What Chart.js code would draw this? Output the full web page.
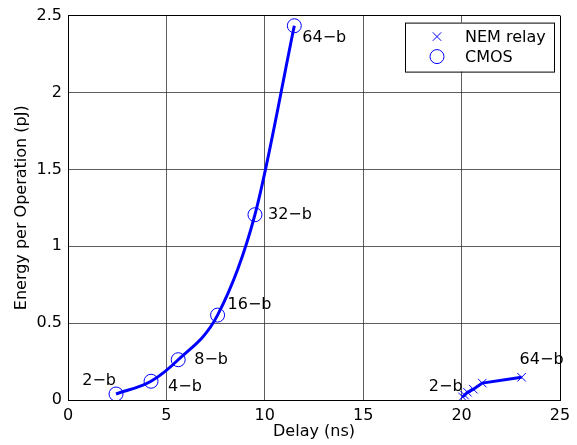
<!DOCTYPE html>
<html>
<head>
<meta charset="utf-8">
<script src="https://cdn.jsdelivr.net/npm/chart.js@4/dist/chart.umd.min.js"></script>
<style>
html,body{margin:0;padding:0;background:#fff;}
#wrap{width:577px;height:445px;}
</style>
</head>
<body>
<div id="wrap"><canvas id="c" width="577" height="445"></canvas></div>
<script>
// ---- data ----
const bitLabels = ['2\u2212b', '4\u2212b', '8\u2212b', '16\u2212b', '32\u2212b', '64\u2212b'];
const cmosDelay = [2.44, 4.22, 5.6, 7.6, 9.5, 11.5];
const cmosEnergy = [0.039, 0.122, 0.262, 0.552, 1.205, 2.434];
const nemDelay = [20.05, 20.15, 20.3, 20.6, 21.05, 23.05];
const nemEnergy = [0.02, 0.032, 0.05, 0.07, 0.11, 0.148];
const xTicks = [0, 5, 10, 15, 20, 25];
const yTicks = [0, 0.5, 1, 1.5, 2, 2.5];
const seriesNames = ['NEM relay', 'CMOS'];

// label placement (style only): [dx, dy, align]
const cmosLabelPos = [[0, -13, 'right'], [17, 6, 'left'], [16, 0, 'left'], [10, -10, 'left'], [13, 0, 'left'], [8, 12, 'left']];
const nemLabelPos = [[0, -10, 'right'], null, null, null, null, [-2, -17, 'left']];

const FONT = '"DejaVu Sans", sans-serif';
const FS = 16;
const BLUE = '#0000ff';

function pts(xs, ys) { return xs.map((x, i) => ({ x: x, y: ys[i] })); }

const labelPlugin = {
  id: 'pointLabels',
  afterDatasetsDraw(chart) {
    const ctx = chart.ctx;
    const xs = chart.scales.x, ys = chart.scales.y;
    ctx.save();
    ctx.font = FS + 'px ' + FONT;
    ctx.fillStyle = '#000';
    ctx.textBaseline = 'middle';
    const draw = (dx, dy, pos, i) => {
      if (!pos) return;
      ctx.textAlign = pos[2];
      ctx.fillText(bitLabels[i], xs.getPixelForValue(dx) + pos[0], ys.getPixelForValue(dy) + pos[1]);
    };
    cmosDelay.forEach((d, i) => draw(d, cmosEnergy[i], cmosLabelPos[i], i));
    nemDelay.forEach((d, i) => draw(d, nemEnergy[i], nemLabelPos[i], i));
    ctx.restore();
  }
};

const legendPlugin = {
  id: 'boxLegend',
  afterDraw(chart) {
    const ctx = chart.ctx;
    const a = chart.chartArea;
    const w = 149, h = 49;
    const x0 = a.right - 6 - w, y0 = a.top + 7;
    ctx.save();
    ctx.fillStyle = '#fff';
    ctx.fillRect(x0, y0, w, h);
    ctx.strokeStyle = '#000';
    ctx.lineWidth = 1;
    ctx.strokeRect(x0 + 0.5, y0 + 0.5, w, h);
    const styles = ['crossRot', 'circle'];
    const radii = [6, 7];
    ctx.font = FS + 'px ' + FONT;
    ctx.textBaseline = 'middle';
    ctx.textAlign = 'left';
    seriesNames.forEach((name, i) => {
      const cy = y0 + 14 + i * 20;
      ctx.strokeStyle = BLUE;
      ctx.fillStyle = 'rgba(0,0,0,0)';
      ctx.lineWidth = 1;
      Chart.helpers.drawPoint(ctx, { pointStyle: styles[i], radius: radii[i], borderWidth: 1 }, x0 + 32, cy);
      ctx.fillStyle = '#000';
      ctx.fillText(name, x0 + 60, cy + 1);
    });
    ctx.restore();
  }
};

const gridColor = (ctx, lo, hi) => {
  const v = ctx.tick ? ctx.tick.value : null;
  return (v === lo || v === hi) ? '#000' : 'rgba(40,40,40,0.75)';
};

new Chart(document.getElementById('c'), {
  type: 'scatter',
  data: {
    datasets: [
      { label: 'NEM line', data: pts(nemDelay, nemEnergy), showLine: true, borderColor: BLUE, borderWidth: 3, pointRadius: 0 },
      { label: 'CMOS line', data: pts(cmosDelay, cmosEnergy), showLine: true, borderColor: BLUE, borderWidth: 3, pointRadius: 0, cubicInterpolationMode: 'monotone' },
      { label: seriesNames[0], data: pts(nemDelay, nemEnergy), showLine: false, pointStyle: 'crossRot', pointRadius: 6, pointBorderWidth: 1, borderColor: BLUE, backgroundColor: 'rgba(0,0,0,0)' },
      { label: seriesNames[1], data: pts(cmosDelay, cmosEnergy), showLine: false, pointStyle: 'circle', pointRadius: 7, pointBorderWidth: 1, borderColor: BLUE, backgroundColor: 'rgba(0,0,0,0)' }
    ]
  },
  options: {
    responsive: false,
    animation: false,
    layout: { padding: { top: 12, right: 17, left: 12, bottom: 0 } },
    plugins: { legend: { display: false }, tooltip: { enabled: false } },
    scales: {
      x: {
        type: 'linear', min: 0, max: 25,
        afterBuildTicks: s => { s.ticks = xTicks.map(v => ({ value: v })); },
        afterFit: s => { s.height = 45; },
        grid: { color: c => gridColor(c, 0, 25), lineWidth: 1, drawTicks: false },
        border: { color: '#000', width: 1 },
        ticks: { color: '#000', font: { family: FONT, size: FS }, padding: 6, maxRotation: 0 },
        title: { display: true, text: 'Delay (ns)', color: '#000', font: { family: FONT, size: FS }, padding: { top: 0, bottom: 4 } }
      },
      y: {
        type: 'linear', min: 0, max: 2.5,
        afterBuildTicks: s => { s.ticks = yTicks.map(v => ({ value: v })); },
        afterFit: s => { s.width = 56; },
        grid: { color: c => gridColor(c, 0, 2.5), lineWidth: 1, drawTicks: false },
        border: { color: '#000', width: 1 },
        ticks: { color: '#000', font: { family: FONT, size: FS }, padding: 6, callback: v => String(v) },
        title: { display: true, text: 'Energy per Operation (pJ)', color: '#000', font: { family: FONT, size: FS }, padding: { top: 0, bottom: 4 } }
      }
    }
  },
  plugins: [labelPlugin, legendPlugin]
});
</script>
</body>
</html>
